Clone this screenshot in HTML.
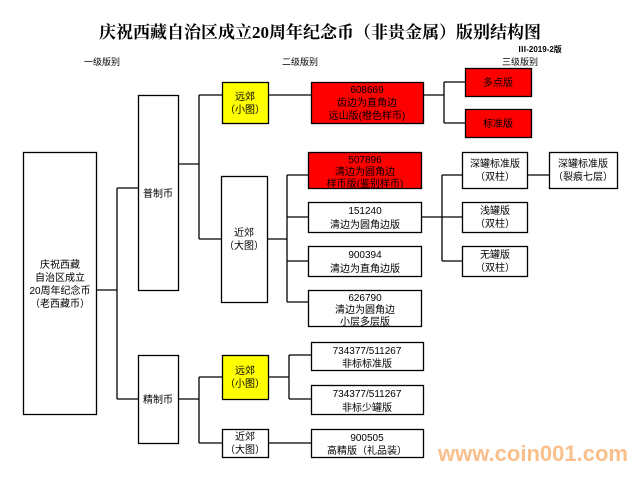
<!DOCTYPE html>
<html><head><meta charset="utf-8"><style>
body{margin:0;background:#fff}
svg{display:block}
text{font-family:"Liberation Sans","Noto Sans CJK SC",sans-serif;font-size:10px;fill:#000;text-anchor:middle}
</style></head><body>
<svg width="641" height="480" viewBox="0 0 641 480" xmlns="http://www.w3.org/2000/svg">
<g stroke="#000" stroke-width="1.3" fill="none">
<!-- root -->
<rect x="23.5" y="152.5" width="73" height="262" fill="#fff"/>
<path d="M96 290H117M117 188V399M117 188H138M117 399H138"/>
<rect x="138.5" y="95.5" width="40" height="195" fill="#fff"/>
<rect x="138.5" y="355.5" width="40" height="88" fill="#fff"/>
<!-- 普制币 bracket -->
<path d="M178 164H199M199 95V239M199 95H222M199 239H221"/>
<rect x="222.5" y="82.5" width="46" height="41" fill="#ffff00"/>
<rect x="221.5" y="176.5" width="46" height="126" fill="#fff"/>
<path d="M268 95H311"/>
<rect x="311.5" y="82.5" width="112" height="41" fill="#ff0000"/>
<path d="M423 95H444M444 82V123M444 82H465M444 123H465"/>
<rect x="465.5" y="68.5" width="66" height="28" fill="#ff0000"/>
<rect x="465.5" y="109.5" width="66" height="28" fill="#ff0000"/>
<!-- 近郊 大图 -->
<path d="M267 239H287M287 175V302M287 175H308M287 217H308M287 261H308M287 302H308"/>
<rect x="308.5" y="152.5" width="113" height="36" fill="#ff0000"/>
<rect x="308.5" y="202.5" width="113" height="30" fill="#fff"/>
<rect x="308.5" y="246.5" width="113" height="30" fill="#fff"/>
<rect x="308.5" y="290.5" width="113" height="36" fill="#fff"/>
<path d="M421 217H442M442 175V261M442 175H462M442 217H462M442 261H462"/>
<rect x="462.5" y="152.5" width="65" height="36" fill="#fff"/>
<rect x="462.5" y="202.5" width="65" height="30" fill="#fff"/>
<rect x="462.5" y="246.5" width="65" height="30" fill="#fff"/>
<path d="M527 175H549"/>
<rect x="549.5" y="152.5" width="68" height="36" fill="#fff"/>
<!-- 精制币 -->
<path d="M178 399H199M199 377V443M199 377H222M199 443H222"/>
<rect x="222.5" y="355.5" width="46" height="44" fill="#ffff00"/>
<rect x="222.5" y="429.5" width="46" height="28" fill="#fff"/>
<path d="M268 377H289M289 355V399M289 355H311M289 399H311M268 443H311"/>
<rect x="311.5" y="342.5" width="112" height="28" fill="#fff"/>
<rect x="311.5" y="385.5" width="112" height="29" fill="#fff"/>
<rect x="311.5" y="429.5" width="112" height="28" fill="#fff"/>
</g>
<text x="320" y="38" style="font-size:17px;font-weight:bold;font-family:'Liberation Serif','Noto Serif CJK SC',serif">庆祝西藏自治区成立20周年纪念币（非贵金属）版别结构图</text>
<text x="540" y="52" style="font-size:8px;font-weight:bold">Ⅲ-2019-2版</text>
<text x="102" y="65" style="font-size:9px">一级版别</text>
<text x="300" y="65" style="font-size:9px">二级版别</text>
<text x="520" y="65" style="font-size:9px">三级版别</text>
<text x="60" y="268">庆祝西藏</text>
<text x="60" y="281">自治区成立</text>
<text x="60" y="294">20周年纪念币</text>
<text x="60" y="307">（老西藏币）</text>
<text x="158" y="197">普制币</text>
<text x="158" y="403">精制币</text>
<text x="245" y="100">远郊</text>
<text x="245" y="113">（小图）</text>
<text x="244" y="236">近郊</text>
<text x="244" y="249">（大图）</text>
<text x="367" y="93">608669</text>
<text x="367" y="106">齿边为直角边</text>
<text x="367" y="119">远山版(橙色样币)</text>
<text x="498" y="86">多点版</text>
<text x="498" y="127">标准版</text>
<text x="365" y="163">507896</text>
<text x="365" y="175">清边为圆角边</text>
<text x="365" y="187">样币版(鉴别样币)</text>
<text x="365" y="214">151240</text>
<text x="365" y="228">清边为圆角边版</text>
<text x="365" y="258">900394</text>
<text x="365" y="272">清边为直角边版</text>
<text x="365" y="301">626790</text>
<text x="365" y="313">清边为圆角边</text>
<text x="365" y="325">小层多层版</text>
<text x="495" y="167">深罐标准版</text>
<text x="495" y="180">（双柱）</text>
<text x="495" y="214">浅罐版</text>
<text x="495" y="227">（双柱）</text>
<text x="495" y="258">无罐版</text>
<text x="495" y="271">（双柱）</text>
<text x="583" y="167">深罐标准版</text>
<text x="583" y="180">（裂痕七层）</text>
<text x="245" y="374">远郊</text>
<text x="245" y="387">（小图）</text>
<text x="245" y="440">近郊</text>
<text x="245" y="453">（大图）</text>
<text x="367" y="354">734377/511267</text>
<text x="367" y="367">非标标准版</text>
<text x="367" y="397">734377/511267</text>
<text x="367" y="411">非标少罐版</text>
<text x="367" y="441">900505</text>
<text x="367" y="454">高精版（礼品装）</text>
<text x="533" y="461" style="font-size:22px;font-weight:bold;fill:#f9c08c">www.coin001.com</text>
</svg>
</body></html>
